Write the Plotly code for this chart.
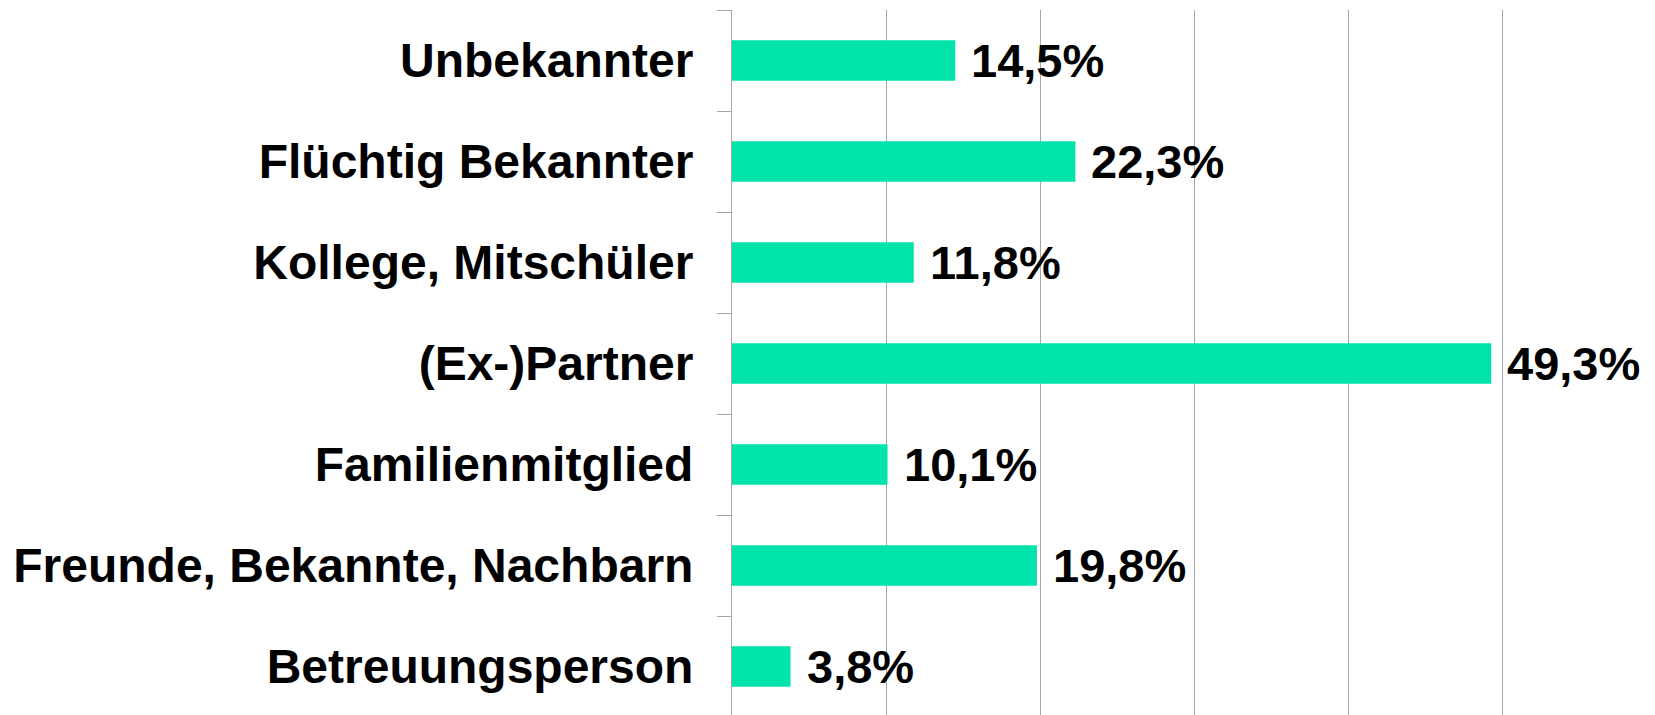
import plotly.graph_objects as go

# categories top to bottom, shares in percent
categories = ["Unbekannter", "Flüchtig Bekannter", "Kollege, Mitschüler", "(Ex-)Partner",
              "Familienmitglied", "Freunde, Bekannte, Nachbarn", "Betreuungsperson"]
values = [14.5, 22.3, 11.8, 49.3, 10.1, 19.8, 3.8]
labels = [f"{v:.1f}".replace(".", ",") + "%" for v in values]

grey = "#a6a6a6"
fig = go.Figure()
fig.add_trace(go.Bar(
    x=values, y=categories, orientation="h",
    width=0.4,
    marker=dict(color="#00e3aa", line_width=0),
    hoverinfo="skip",
))

for c, v, t in zip(categories, values, labels):
    fig.add_annotation(
        x=v, y=c, text=t, showarrow=False,
        xanchor="left", yanchor="middle", xshift=14,
        font=dict(family="Liberation Sans, Arial", size=47, color="black", weight="bold"),
    )

# the page body adds 8px on the left and top, margins allow for it
fig.update_layout(
    width=1655, height=715,
    margin=dict(l=724, r=7, t=2, b=6),
    paper_bgcolor="white", plot_bgcolor="white",
    showlegend=False,
    font=dict(family="Liberation Sans, Arial", color="black"),
    xaxis=dict(range=[0, 60], dtick=10, showgrid=True, gridcolor=grey, gridwidth=1,
               showticklabels=False, zeroline=False, showline=False, ticks="",
               automargin=False),
    yaxis=dict(autorange="reversed", showgrid=False, showline=True, linecolor=grey, linewidth=1,
               ticks="outside", tickson="boundaries", ticklen=14, tickcolor=grey,
               ticklabelstandoff=28, automargin=False,
               tickfont=dict(family="Liberation Sans, Arial", size=48, color="black", weight="bold")),
)

fig.write_html("out.html")
